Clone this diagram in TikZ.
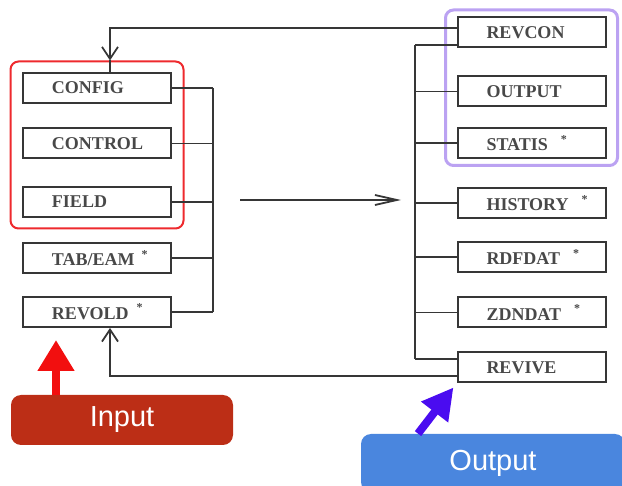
\documentclass[tikz,border=0pt]{standalone}
\usepackage{fontspec}
\setmainfont{Liberation Serif}
\newfontfamily\tagfont{Liberation Sans}
\usetikzlibrary{arrows.meta,fit}
\definecolor{lineGray}{HTML}{363636}
\definecolor{labelGray}{HTML}{484848}
\definecolor{frameRed}{HTML}{EE2A2E}
\definecolor{framePurple}{HTML}{BBA2F2}
\definecolor{inputFill}{HTML}{BC2E16}
\definecolor{outputFill}{HTML}{4A86DE}
\definecolor{arrowRed}{HTML}{F20F0F}
\definecolor{arrowBlue}{HTML}{4A0CF0}
\newcommand{\starred}[1][6.5pt]{\kern#1\textsuperscript{*}}
\begin{document}
\begin{tikzpicture}[x=0.5pt,y=-0.5pt,
  file/.style={draw=lineGray, line width=1pt, minimum height=15pt, inner xsep=14.5pt, inner ysep=0pt,
    text width=45pt, align=left, text=labelGray, font=\fontsize{9}{10}\selectfont\bfseries},
  link/.style={draw=lineGray, line width=0.9pt},
  frame/.style={rounded corners=4pt, line width=1pt},
  tag/.style={rounded corners=5pt, text=white, font=\tagfont\fontsize{14.5}{17}\selectfont}]
\useasboundingbox (0,0) rectangle (622,486);
\clip (0,0) rectangle (622,486);
% input files
\node[file] (config) at (97,88) {CONFIG};
\node[file] (control) at (97,143.5) {CONTROL};
\node[file] (field) at (97,202) {FIELD};
\node[file] (tabeam) at (97,258) {TAB/EAM\starred[3.5pt]};
\node[file] (revold) at (97,312) {REVOLD\starred[4pt]};
% output files
\node[file] (revcon) at (531.5,32.5) {REVCON};
\node[file] (outfile) at (531.5,91.5) {OUTPUT};
\node[file] (statis) at (531.5,143) {STATIS\starred};
\node[file] (history) at (531.5,203) {HISTORY\starred};
\node[file] (rdfdat) at (531.5,257) {RDFDAT\starred};
\node[file] (zdndat) at (531.5,312.5) {ZDNDAT\starred};
\node[file] (revive) at (531.5,367.5) {REVIVE};
\node[frame, draw=frameRed, fit=(config)(field), inner xsep=5.75pt, inner ysep=5.25pt] (inputs) {};
\node[frame, draw=framePurple, line width=1.5pt, fit=(revcon)(statis), inner xsep=5.5pt, inner ysep=3.25pt] (restart) {};
% bus lines
\coordinate (lbus) at (213,88);
\coordinate (rbus) at (415,45);
\foreach \n in {config,control,field,tabeam,revold}
  \path[draw,link] (\n.east) -- (\n.east -| lbus);
\path[draw,link] (config.east -| lbus) -- (revold.east -| lbus);
\path[draw,link] ([yshift=-6.25pt]revcon.west) -- ([yshift=-6.25pt]revcon.west -| rbus);
\foreach \n in {outfile,statis,history,rdfdat,zdndat}
  \path[draw,link] (\n.west) -- (\n.west -| rbus);
\path[draw,link] ([yshift=4.25pt]revive.west) -- ([yshift=4.25pt]revive.west -| rbus);
\path[draw,link] (rbus) -- ([yshift=4.25pt]revive.west -| rbus);
% run
\coordinate (run0) at (240,200);
\coordinate (run1) at (401,200);
\path[draw,link,-{Straight Barb[length=11pt,width=5pt]}] (run0) -- (run1);
% restart loops
\path[draw,link,-{Straight Barb[length=6pt,width=8pt]}] ([yshift=2.25pt]revcon.west) -| ([xshift=6.5pt]config.north |- inputs.north);
\path[draw,link] ([xshift=6.5pt]config.north |- inputs.north) -- ([xshift=6.5pt]config.north);
\path[draw,link,-{Straight Barb[length=6pt,width=8pt]}] ([yshift=-4.25pt]revive.west) -| ([xshift=6.5pt]revold.south);
% tags
\node[tag, fill=inputFill, minimum width=111pt, minimum height=25pt] (intag) at (122,420) {Input};
\node[tag, fill=outputFill, minimum width=132pt, minimum height=29pt] (outtag) at (493,463) {Output};
\path[draw=arrowRed, line width=4pt, -{Triangle[width=17.5pt,length=15.5pt]}, shorten >=6pt] ([xshift=-33pt]intag.north) -- ([xshift=-20.5pt]revold.south);
\path[draw=arrowBlue, line width=4pt, -{Triangle[width=16pt,length=15.5pt]}, shorten >=2.5pt] ([xshift=-37.5pt]outtag.north) -- (revive.south west);
\end{tikzpicture}
\end{document}
